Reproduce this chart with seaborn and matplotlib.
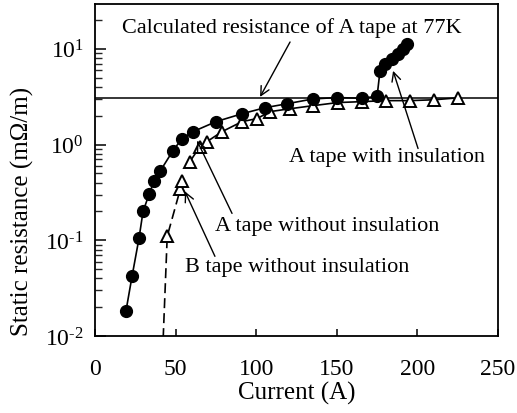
import numpy as np
import pandas as pd
import matplotlib
matplotlib.use("Agg")
import matplotlib.pyplot as plt
import matplotlib.ticker as mticker
import seaborn as sns

# ---- data ----
a_ins_current = [19.2, 23.0, 27.3, 29.8, 33.5, 36.6, 40.3, 48.4, 54.0, 60.8, 75.1,
                 91.2, 105.5, 119.1, 135.2, 150.1, 165.6, 175.0, 176.8, 179.9,
                 184.2, 188.0, 191.1, 193.5]
a_ins_res = [0.0182, 0.0422, 0.105, 0.200, 0.301, 0.412, 0.524, 0.866, 1.155, 1.365,
             1.738, 2.10, 2.43, 2.67, 3.0, 3.1, 3.05, 3.2, 5.9, 7.0, 7.9, 8.9, 10.0, 11.3]

a_noins_current = [58.9, 65.1, 69.5, 78.8, 91.2, 100.5, 108.6, 121.0, 135.2, 150.7,
                   165.6, 180.5, 195.4, 210.3, 225.2]
a_noins_res = [0.665, 0.953, 1.075, 1.365, 1.738, 1.87, 2.21, 2.37, 2.55, 2.75,
               2.81, 2.88, 2.88, 2.94, 3.08]

b_noins_current = [42.3, 44.8, 52.9, 54.1]
b_noins_res = [0.0095, 0.11, 0.342, 0.415]

calc_resistance = 3.1

x_ticks = [0, 50, 100, 150, 200, 250]

# ---- style ----
sns.set_theme(style="ticks")
plt.rcParams["font.family"] = ["Liberation Serif", "DejaVu Serif"]
plt.rcParams["mathtext.fontset"] = "custom"
plt.rcParams["mathtext.rm"] = "Liberation Serif"
plt.rcParams["mathtext.it"] = "Liberation Serif:italic"
plt.rcParams["axes.linewidth"] = 1.3
plt.rcParams["axes.labelcolor"] = "black"
plt.rcParams["text.color"] = "black"

fig = plt.figure(figsize=(5.17, 4.14), dpi=100)
ax = fig.add_axes([95 / 517, (414 - 337) / 414, (498 - 95) / 517, (337 - 5) / 414])

df_a = pd.DataFrame({"I": a_ins_current, "R": a_ins_res})
df_an = pd.DataFrame({"I": a_noins_current, "R": a_noins_res})
df_b = pd.DataFrame({"I": b_noins_current, "R": b_noins_res})

sns.lineplot(data=df_a, x="I", y="R", ax=ax, color="black", linewidth=1.2,
             marker="o", markersize=8.5, markerfacecolor="black",
             markeredgecolor="black", markeredgewidth=1.0,
             estimator=None, sort=False, zorder=4)
sns.lineplot(data=df_an, x="I", y="R", ax=ax, color="black", linewidth=1.2,
             marker="^", markersize=9, markerfacecolor="white",
             markeredgecolor="black", markeredgewidth=1.4,
             estimator=None, sort=False, zorder=3)
sns.lineplot(data=df_b, x="I", y="R", ax=ax, color="black", linewidth=1.2,
             linestyle=(0, (6, 3)), marker="^", markersize=9,
             markerfacecolor="white", markeredgecolor="black",
             markeredgewidth=1.4, markevery=[1, 2, 3],
             estimator=None, sort=False, zorder=3)

ax.axhline(calc_resistance, color="black", linewidth=1.1, zorder=2)


def log_label(v, p):
    e = int(round(np.log10(v)))
    s = ("\u2010%d" % abs(e)) if e < 0 else "%d" % e
    return r"$\mathregular{10^{%s}}$" % s


ax.set_yscale("log")
ax.set_xlim(0, 250)
ax.set_ylim(0.01, 10 ** 1.469)
ax.set_xticks(x_ticks)
ax.xaxis.set_major_formatter(mticker.FuncFormatter(lambda v, p: f"{int(v)}"))
ax.yaxis.set_major_locator(mticker.LogLocator(base=10, numticks=10))
ax.yaxis.set_minor_locator(mticker.LogLocator(base=10, subs=np.arange(2, 10), numticks=20))
ax.yaxis.set_minor_formatter(mticker.NullFormatter())
ax.yaxis.set_major_formatter(mticker.FuncFormatter(log_label))

ax.tick_params(axis="both", which="major", direction="in", labelsize=17,
               width=1.1, color="black", labelcolor="black")
ax.tick_params(axis="y", which="major", length=8, pad=8)
ax.tick_params(axis="x", which="major", length=5, pad=16)
ax.tick_params(axis="y", which="minor", direction="in", length=5, width=1.0)
for s in ax.spines.values():
    s.set_color("black")

ax.set_xlabel("Current (A)", fontsize=18, labelpad=1)
ax.set_ylabel("Static resistance (m\u03a9/m)", fontsize=18)
ax.yaxis.set_label_coords(-0.152, 0.377)

txt_kw = dict(fontsize=16, color="black", va="center", ha="left")
arr = dict(arrowstyle="->", color="black", lw=1.0, shrinkA=0, shrinkB=0,
           mutation_scale=16)

ax.text(16.7, 16.9, "Calculated resistance of A tape at 77K", **txt_kw)
ax.annotate("", xy=(102.4, 3.15), xytext=(121.0, 11.8), arrowprops=arr)

ax.text(120.3, 0.75, "A tape with insulation", **txt_kw)
ax.annotate("", xy=(184.9, 5.9), xytext=(200.4, 0.91), arrowprops=arr)

ax.text(74.4, 0.143, "A tape without insulation", **txt_kw)
ax.annotate("", xy=(63.3, 1.10), xytext=(85.0, 0.191), arrowprops=arr)

ax.text(55.8, 0.0536, "B tape without insulation", **txt_kw)
ax.annotate("", xy=(55.8, 0.324), xytext=(74.4, 0.068), arrowprops=arr)

fig.savefig("out.png", dpi=100)
